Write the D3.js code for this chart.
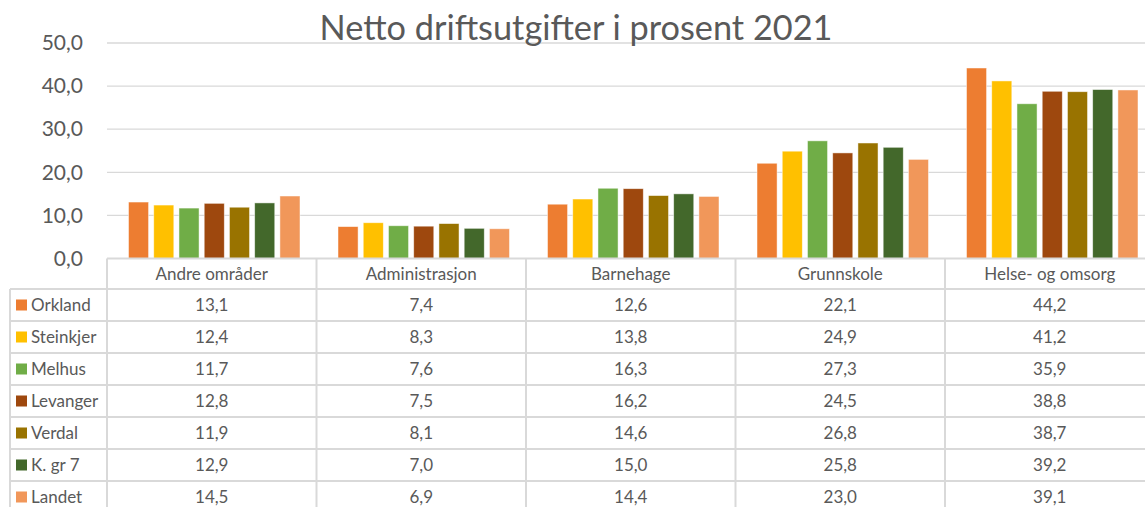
<!DOCTYPE html>
<html>
<head>
<meta charset="utf-8">
<script src="https://cdn.jsdelivr.net/npm/d3@7"></script>
<style>
  html, body { margin: 0; padding: 0; background: #fff; }
  svg { display: block; }
  text { font-family: Lato, "Open Sans", sans-serif; fill: #595959; }
</style>
</head>
<body>
<svg id="chart" width="1145" height="507"></svg>
<script>
const title = "Netto driftsutgifter i prosent 2021";
const categories = ["Andre områder", "Administrasjon", "Barnehage", "Grunnskole", "Helse- og omsorg"];
const seriesNames = ["Orkland", "Steinkjer", "Melhus", "Levanger", "Verdal", "K. gr 7", "Landet"];
const seriesColors = ["#ED7D31", "#FFC000", "#70AD47", "#9E480E", "#997300", "#43682B", "#F1975A"];
const orkland   = [13.1, 7.4, 12.6, 22.1, 44.2];
const steinkjer = [12.4, 8.3, 13.8, 24.9, 41.2];
const melhus    = [11.7, 7.6, 16.3, 27.3, 35.9];
const levanger  = [12.8, 7.5, 16.2, 24.5, 38.8];
const verdal    = [11.9, 8.1, 14.6, 26.8, 38.7];
const kgr7      = [12.9, 7.0, 15.0, 25.8, 39.2];
const landet    = [14.5, 6.9, 14.4, 23.0, 39.1];
const yTicks = [0, 10, 20, 30, 40, 50];

const seriesValues = [orkland, steinkjer, melhus, levanger, verdal, kgr7, landet];
const series = seriesNames.map((n, i) => ({ name: n, color: seriesColors[i], values: seriesValues[i] }));

const svg = d3.select("#chart");
const plotLeft = 107, plotRight = 1154.5, plotTop = 43, plotBottom = 258.5;
const tableLeft = 10;
const headerH = 30.5, rowH = 32;
const gridColor = "#d9d9d9";

const x0 = d3.scaleBand().domain(categories).range([plotLeft, plotRight]).paddingInner(0).paddingOuter(0);
const y = d3.scaleLinear().domain([0, 50]).range([plotBottom, plotTop]);
const fmt = v => d3.format(".1f")(v).replace(".", ",");

// gridlines
svg.append("g").selectAll("line").data(yTicks.filter(t => t > 0)).join("line")
  .attr("x1", plotLeft).attr("x2", plotRight)
  .attr("y1", d => y(d)).attr("y2", d => y(d))
  .attr("stroke", gridColor).attr("stroke-width", 1.3);

// y axis labels
const yAxis = d3.axisLeft(y).tickValues(yTicks).tickFormat(fmt).tickSize(0).tickPadding(0);
const yg = svg.append("g").attr("transform", `translate(83,0)`).call(yAxis);
yg.select(".domain").remove();
yg.selectAll("text").attr("font-size", 21).attr("fill", "#595959")
  .style("font-family", "Lato, 'Open Sans', sans-serif").attr("dy", "0.32em");

// bars
const barStep = 24.5, barW = 19.5;
const x1 = d3.scaleBand().domain(seriesNames).range([0, barStep * 7]).paddingInner((barStep - barW) / barStep).paddingOuter(0);
const groupOffset = (x0.bandwidth() - (barStep * 6 + barW)) / 2;
const groups = svg.append("g").selectAll("g").data(categories).join("g")
  .attr("transform", d => `translate(${x0(d) + groupOffset},0)`);
groups.selectAll("rect").data((d, ci) => series.map(s => ({ s, v: s.values[ci] }))).join("rect")
  .attr("x", d => x1(d.s.name))
  .attr("width", x1.bandwidth())
  .attr("y", d => y(d.v))
  .attr("height", d => y(0) - y(d.v))
  .attr("fill", d => d.s.color)
  .attr("stroke", "#ffffff").attr("stroke-opacity", 0.6).attr("stroke-width", 0.8);

// data table
const tbl = svg.append("g");
const tableBottom = plotBottom + headerH + rowH * series.length;
const rowYs = d3.range(series.length + 1).map(i => plotBottom + headerH + rowH * i);
tbl.append("line").attr("x1", plotLeft).attr("x2", plotRight).attr("y1", plotBottom).attr("y2", plotBottom)
  .attr("stroke", gridColor).attr("stroke-width", 2);
tbl.selectAll("line.row").data(rowYs).join("line").attr("class", "row")
  .attr("x1", tableLeft).attr("x2", plotRight).attr("y1", d => d).attr("y2", d => d)
  .attr("stroke", gridColor).attr("stroke-width", 2);
const colXs = categories.map(c => x0(c)).concat([plotRight]);
tbl.selectAll("line.col").data(colXs).join("line").attr("class", "col")
  .attr("x1", d => d).attr("x2", d => d).attr("y1", plotBottom).attr("y2", tableBottom)
  .attr("stroke", gridColor).attr("stroke-width", 2);
tbl.append("line").attr("x1", tableLeft).attr("x2", tableLeft)
  .attr("y1", plotBottom + headerH).attr("y2", tableBottom)
  .attr("stroke", gridColor).attr("stroke-width", 2);

// header labels
tbl.selectAll("text.hdr").data(categories).join("text").attr("class", "hdr")
  .attr("x", d => x0(d) + x0.bandwidth() / 2)
  .attr("y", plotBottom + headerH / 2)
  .attr("dy", "0.35em").attr("text-anchor", "middle").attr("font-size", 17)
  .text(d => d);

// legend column
const leg = tbl.selectAll("g.leg").data(series).join("g").attr("class", "leg")
  .attr("transform", (d, i) => `translate(0,${plotBottom + headerH + rowH * i})`);
leg.append("rect").attr("x", 16).attr("y", rowH / 2 - 5.5).attr("width", 11).attr("height", 11)
  .attr("fill", d => d.color);
leg.append("text").attr("x", 31).attr("y", rowH / 2).attr("dy", "0.35em")
  .attr("font-size", 17).text(d => d.name);

// values
leg.selectAll("text.val").data(d => d.values).join("text").attr("class", "val")
  .attr("x", (v, i) => x0(categories[i]) + x0.bandwidth() / 2)
  .attr("y", rowH / 2).attr("dy", "0.35em").attr("text-anchor", "middle")
  .attr("font-size", 17).text(v => fmt(v));

// title
svg.append("text").attr("x", 576).attr("y", 40).attr("text-anchor", "middle")
  .attr("font-size", 34.3).text(title);
</script>
</body>
</html>
